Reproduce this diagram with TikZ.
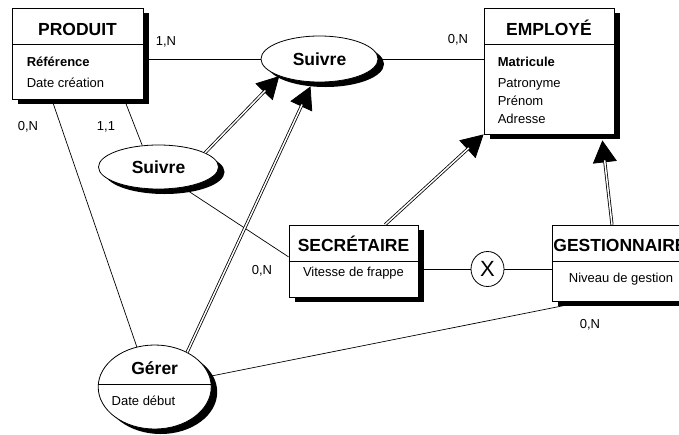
\documentclass[tikz,border=0pt]{standalone}
\usepackage{fontspec}
\setmainfont{Liberation Sans}
\usetikzlibrary{shapes.geometric,shadows,calc,arrows.meta}
\pgfdeclarelayer{background}
\pgfsetlayers{background,main}
\begin{document}
\begin{tikzpicture}[x=1pt,y=-1pt,
  shad/.style={drop shadow={shadow xshift=6pt,shadow yshift=-5pt,fill=black,opacity=1}},
  ent/.style={draw,fill=white,line width=0.8pt,inner sep=0pt,shad},
  rel/.style={ellipse,draw,fill=white,line width=0.8pt,inner sep=0pt,shad},
  ttl/.style={font=\fontsize{17.5}{20}\selectfont\bfseries,inner sep=0pt},
  att/.style={font=\fontsize{13}{18}\selectfont,inner sep=0pt,align=left},
  card/.style={font=\fontsize{13}{15}\selectfont,inner sep=0pt},
  lnk/.style={line width=0.7pt},
  isa/.style={line width=0.8pt,-{Triangle[length=22pt,width=24pt]}},
  isadbl/.style={double,double distance=1.5pt,line width=0.8pt,shorten >=20pt}]
\useasboundingbox (0,0) rectangle (679,434);
\clip (0,0) rectangle (679,434);

% entities
\node[ent,minimum width=131pt,minimum height=91pt] (produit) at (77.5,53.5) {};
\draw[lnk] ($(produit.north west)+(0,37)$) -- ($(produit.north east)+(0,37)$);
\node[ttl,anchor=base] (produitT) at ($(produit.north)+(0,28)$) {PRODUIT};
\node[att,anchor=base west] (produitA) at ($(produit.north west)+(15,80)$) {\textbf{Référence}\\[3pt]Date création};

\node[ent,minimum width=130pt,minimum height=126pt] (employe) at (549,71) {};
\draw[lnk] ($(employe.north west)+(0,37)$) -- ($(employe.north east)+(0,37)$);
\node[ttl,anchor=base] (employeT) at ($(employe.north)+(0,27.5)$) {EMPLOYÉ};
\node[att,anchor=base west] (employeA) at ($(employe.north west)+(14,116)$) {\textbf{Matricule}\\[3pt]Patronyme\\Prénom\\Adresse};

\node[ent,minimum width=129pt,minimum height=72pt] (secr) at (353.5,261) {};
\draw[lnk] ($(secr.north west)+(0,37)$) -- ($(secr.north east)+(0,37)$);
\node[ttl,anchor=base] (secrT) at ($(secr.north)+(0,27)$) {SECRÉTAIRE};
\node[att,anchor=base] (secrA) at ($(secr.north)+(0,52.3)$) {Vitesse de frappe};

\node[ent,minimum width=138pt,minimum height=76pt] (gest) at (621,263) {};
\draw[lnk] ($(gest.north west)+(0,37)$) -- ($(gest.north east)+(0,37)$);
\node[ttl,anchor=base] (gestT) at ($(gest.north)+(-1,27)$) {GESTIONNAIRE};
\node[att,anchor=base] (gestA) at ($(gest.north)+(0,57.7)$) {Niveau de gestion};

% relationships
\node[rel,minimum width=117pt,minimum height=46pt,font=\fontsize{17.5}{20}\selectfont\bfseries] (suivreA) at (319.5,59) {Suivre};
\node[rel,minimum width=120pt,minimum height=44pt,font=\fontsize{17.5}{20}\selectfont\bfseries] (suivreB) at (158.5,167) {Suivre};
\node[rel,minimum width=113pt,minimum height=84pt] (gerer) at (154.7,387) {};
\draw[lnk] ($(gerer.west)+(0,-3)$) -- ($(gerer.east)+(0,-3)$);
\node[ttl,anchor=base] (gererT) at ($(gerer.center)+(0,-13)$) {Gérer};
\node[att,anchor=base west] (gererA) at ($(gerer.west)+(13.7,18)$) {Date début};

\node[ellipse,draw,fill=white,line width=0.8pt,minimum width=33pt,minimum height=35pt,inner sep=0pt,font=\fontsize{22}{22}\selectfont] (excl) at (487.5,269) {X};

% links
\begin{pgfonlayer}{background}
\draw[lnk] (produit.east |- suivreA.west) -- (suivreA.west);
\draw[lnk] (suivreA.east) -- (employe.west |- suivreA.east);
\draw[lnk] ($(produit.south west)!0.855!(produit.south east)$) -- (suivreB.127);
\draw[lnk] ($(produit.south west)!0.305!(produit.south east)$) -- (gerer.114);
\draw[lnk] (suivreB.320) -- ($(secr.north west)!0.444!(secr.south west)$);
\draw[lnk] (gerer.11) -- ($(gest.south west)!0.24!(gest.south east)$);
\draw[lnk] (excl.west -| secr.east) -- (excl.west);
\draw[lnk] (excl.east) -- (excl.east -| gest.west);
\end{pgfonlayer}

% is-a / inheritance arrows
\draw[isa] (suivreB.17.5) -- (suivreA.203);
\draw[isadbl] (suivreB.17.5) -- (suivreA.203);
\draw[isa] (gerer.47.6) -- ($(suivreA.south)+(-9,4)$);
\draw[isadbl] (gerer.47.6) -- ($(suivreA.south)+(-9,4)$);
\draw[isa] ($(secr.north west)!0.744!(secr.north east)$) -- (employe.south west);
\draw[isadbl] ($(secr.north west)!0.744!(secr.north east)$) -- (employe.south west);
\draw[isa] ($(gest.north west)!0.435!(gest.north east)$) -- ($(employe.south west)!0.908!(employe.south east)+(0,6)$);
\draw[isadbl] ($(gest.north west)!0.435!(gest.north east)$) -- ($(employe.south west)!0.908!(employe.south east)+(0,6)$);

% cardinalities
\node[card] (c1) at (166,42) {1,N};
\node[card] (c2) at (458,40) {0,N};
\node[card] (c3) at (28,127) {0,N};
\node[card] (c4) at (106,127) {1,1};
\node[card] (c5) at (262,271) {0,N};
\node[card] (c6) at (590,325) {0,N};
\end{tikzpicture}
\end{document}
